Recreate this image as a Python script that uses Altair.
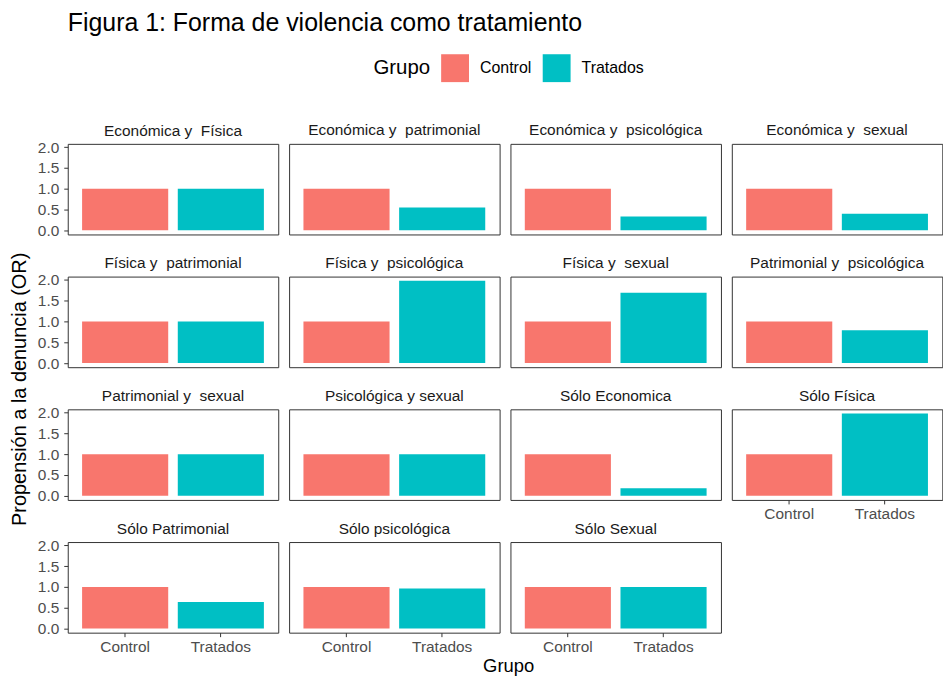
import altair as alt
import pandas as pd

panels = [
    "Económica y\u00a0 Física", "Económica y\u00a0 patrimonial", "Económica y\u00a0 psicológica", "Económica y\u00a0 sexual",
    "Física y\u00a0 patrimonial", "Física y\u00a0 psicológica", "Física y\u00a0 sexual", "Patrimonial y\u00a0 psicológica",
    "Patrimonial y\u00a0 sexual", "Psicológica y sexual", "Sólo Economica", "Sólo Física",
    "Sólo Patrimonial", "Sólo psicológica", "Sólo Sexual",
]
groups = ["Control", "Tratados"]
control = [1.0] * 15
tratados = [1.0, 0.55, 0.33, 0.40, 1.0, 1.98, 1.69, 0.79, 1.0, 1.0, 0.18, 1.98, 0.64, 0.96, 1.0]
y_ticks = [0.0, 0.5, 1.0, 1.5, 2.0]

rows = []
for p, c, t in zip(panels, control, tratados):
    rows.append({"Forma": p, "Grupo": "Control", "OR": c})
    rows.append({"Forma": p, "Grupo": "Tratados", "OR": t})
df = pd.DataFrame(rows)

NCOL = 4
W, H = 211.4, 91
SPX, SPY = 10.3, 42.3
bottom_of_col = {11, 12, 13, 14}

legend = alt.Legend(title="Grupo", orient="none", direction="horizontal",
                    legendX=307, legendY=-90, titleOrient="left",
                    titleFontSize=20.5, titleFontWeight="normal", titleColor="#000000",
                    labelFontSize=16, labelColor="#000000",
                    symbolType="square", symbolSize=784, symbolStrokeWidth=0,
                    symbolOpacity=1, columnPadding=11, labelOffset=11, titlePadding=11)

charts = []
for i, p in enumerate(panels):
    col = i % NCOL
    if col == 0:
        yaxis = alt.Axis(values=y_ticks, format=".1f", labelFontSize=15.5, labelColor="#4D4D4D",
                         tickColor="#333333", tickSize=4, domain=False, grid=False, labelPadding=5,
                         title="Propensión a la denuncia (OR)" if i == 0 else None,
                         titleFontSize=20, titleFontWeight="normal", titleColor="#000000",
                         titleY=246, titlePadding=8)
    else:
        yaxis = None
    if i in bottom_of_col:
        xaxis = alt.Axis(labelAngle=0, labelFontSize=15.5, labelColor="#4D4D4D",
                         tickColor="#333333", tickSize=4, domain=False, labelPadding=3,
                         title="Grupo" if i == 13 else None,
                         titleFontSize=18.5, titleFontWeight="normal", titleColor="#000000",
                         titleX=220, titlePadding=2)
    else:
        xaxis = None
    c = alt.Chart(df).transform_filter(alt.datum.Forma == p).mark_bar().encode(
        x=alt.X("Grupo:N", title=None, sort=groups,
                scale=alt.Scale(paddingInner=0.1, paddingOuter=0.15), axis=xaxis),
        y=alt.Y("OR:Q", title=None,
                scale=alt.Scale(domain=[-0.099, 2.079], nice=False, zero=False), axis=yaxis),
        y2=alt.datum(0),
        color=alt.Color("Grupo:N", sort=groups,
                        scale=alt.Scale(domain=groups, range=["#F8766D", "#00BFC4"]),
                        legend=legend),
    ).properties(
        width=W, height=H,
        title=alt.Title(p, fontSize=15.5, fontWeight="normal", color="#1A1A1A",
                        offset=1 if col == 0 else 5, anchor="middle", frame="group"),
    )
    charts.append(c)

chart = alt.concat(*charts, columns=NCOL, spacing={"row": SPY, "column": SPX}, bounds="flush").properties(
    title=alt.Title("Figura 1: Forma de violencia como tratamiento", anchor="start",
                    fontSize=25, fontWeight="normal", color="#000000", offset=18, frame="group"),
    padding={"left": 0, "top": 2, "right": 0, "bottom": 0},
).configure(font="Liberation Sans").configure_view(stroke="#333333", strokeWidth=1)

chart.save("out.html", embed_options={"renderer": "svg", "actions": False})
